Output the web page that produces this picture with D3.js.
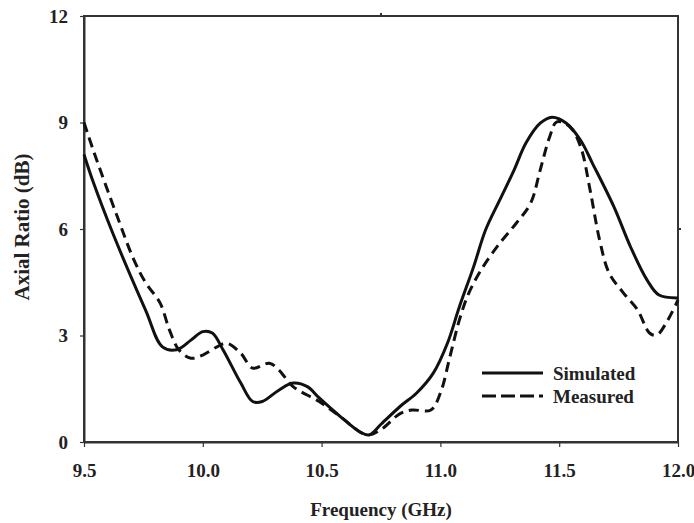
<!DOCTYPE html>
<html>
<head>
<meta charset="utf-8">
<script src="https://cdn.jsdelivr.net/npm/d3@7"></script>
<style>
  body { margin: 0; background: #fff; }
  text { font-family: "Liberation Serif", "Times New Roman", serif; font-weight: bold; fill: #222; }
</style>
</head>
<body>
<div id="chart"></div>
<script>
// values
const simFreq = [9.5, 9.54, 9.62, 9.76, 9.83, 9.89, 9.95, 10.0, 10.04, 10.085, 10.16, 10.21, 10.25, 10.32, 10.38, 10.44, 10.49, 10.58, 10.66, 10.70, 10.75, 10.83, 10.9, 10.97, 11.03, 11.08, 11.14, 11.19, 11.25, 11.31, 11.36, 11.42, 11.47, 11.53, 11.59, 11.64, 11.73, 11.80, 11.87, 11.92, 12.0];
const simAR   = [8.1, 7.3, 5.9, 3.7, 2.68, 2.6, 2.87, 3.11, 3.07, 2.6, 1.66, 1.14, 1.14, 1.46, 1.66, 1.56, 1.24, 0.71, 0.29, 0.2, 0.5, 1.0, 1.38, 1.94, 2.79, 3.81, 4.94, 5.97, 6.82, 7.66, 8.42, 8.98, 9.15, 8.98, 8.5, 7.85, 6.63, 5.5, 4.56, 4.14, 4.06];

const measFreq = [9.5, 9.54, 9.64, 9.71, 9.76, 9.82, 9.86, 9.90, 9.95, 10.0, 10.06, 10.10, 10.16, 10.21, 10.28, 10.32, 10.38, 10.49, 10.58, 10.69, 10.75, 10.83, 10.88, 10.96, 11.0, 11.04, 11.08, 11.12, 11.18, 11.25, 11.32, 11.38, 11.42, 11.46, 11.49, 11.545, 11.59, 11.63, 11.67, 11.71, 11.77, 11.83, 11.88, 11.91, 11.95, 12.0];
const measAR   = [9.0, 8.2, 6.35, 5.13, 4.48, 3.92, 3.15, 2.59, 2.36, 2.45, 2.68, 2.78, 2.5, 2.08, 2.22, 2.03, 1.56, 1.14, 0.71, 0.2, 0.35, 0.8, 0.9, 0.9, 1.38, 2.4, 3.44, 4.2, 4.94, 5.6, 6.17, 6.73, 7.66, 8.6, 9.02, 8.88, 8.32, 7.1, 5.69, 4.76, 4.2, 3.72, 3.07, 3.01, 3.35, 4.0];

const xTicks = [9.5, 10.0, 10.5, 11.0, 11.5, 12.0];
const yTicks = [0, 3, 6, 9, 12];
const seriesNames = ["Simulated", "Measured"];

const W = 694, H = 523;
const margin = { top: 16, right: 16, bottom: 81, left: 84 };
const width = W - margin.left - margin.right;
const height = H - margin.top - margin.bottom;

const svg = d3.select("#chart").append("svg")
  .attr("width", W)
  .attr("height", H);

const g = svg.append("g")
  .attr("transform", `translate(${margin.left},${margin.top})`);

const x = d3.scaleLinear().domain([9.5, 12.0]).range([0, width]);
const y = d3.scaleLinear().domain([0, 12]).range([height, 0]);

// frame
g.append("rect")
  .attr("width", width)
  .attr("height", height)
  .attr("fill", "none")
  .attr("stroke", "#333")
  .attr("stroke-width", 2);

const xAxis = g.append("g")
  .attr("transform", `translate(0,${height})`)
  .call(d3.axisBottom(x).tickValues(xTicks).tickFormat(d3.format(".1f")).tickSize(5).tickPadding(17).tickSizeOuter(0));
xAxis.select(".domain").attr("stroke", "#333").attr("stroke-width", 2);
xAxis.selectAll("line").attr("stroke", "#333").attr("stroke-width", 1.2);
xAxis.selectAll("text").attr("font-size", 19).attr("fill", "#222");

const yAxis = g.append("g")
  .call(d3.axisLeft(y).tickValues(yTicks).tickSize(4).tickPadding(12).tickSizeOuter(0));
yAxis.select(".domain").attr("stroke", "#333").attr("stroke-width", 2);
yAxis.selectAll("line").attr("stroke", "#333").attr("stroke-width", 1.2);
yAxis.selectAll("text").attr("font-size", 19).attr("fill", "#222");

// small marks on the top and right sides of the frame
g.append("line")
  .attr("x1", x(10.75)).attr("x2", x(10.75))
  .attr("y1", 0).attr("y2", -3)
  .attr("stroke", "#333").attr("stroke-width", 2);
g.append("line")
  .attr("x1", width).attr("x2", width + 3)
  .attr("y1", y(6)).attr("y2", y(6))
  .attr("stroke", "#333").attr("stroke-width", 2);

// axis titles
svg.append("text")
  .attr("x", 381)
  .attr("y", 516)
  .attr("text-anchor", "middle")
  .attr("font-size", 19)
  .text("Frequency (GHz)");

svg.append("text")
  .attr("transform", "translate(29,227) rotate(-90)")
  .attr("text-anchor", "middle")
  .attr("font-size", 21)
  .text("Axial Ratio (dB)");

const line = d3.line()
  .x(d => x(d[0]))
  .y(d => y(d[1]))
  .curve(d3.curveCatmullRom.alpha(0.5));

const simData = simFreq.map((f, i) => [f, simAR[i]]);
const measData = measFreq.map((f, i) => [f, measAR[i]]);

g.append("path")
  .datum(measData)
  .attr("fill", "none")
  .attr("stroke", "#111")
  .attr("stroke-width", 3)
  .attr("stroke-dasharray", "10,6")
  .attr("d", line);

g.append("path")
  .datum(simData)
  .attr("fill", "none")
  .attr("stroke", "#111")
  .attr("stroke-width", 3)
  .attr("d", line);

// legend
const legend = svg.append("g")
  .attr("transform", "translate(482,373)");

seriesNames.forEach((name, i) => {
  const ly = i * 23;
  legend.append("line")
    .attr("x1", 0).attr("x2", 61)
    .attr("y1", ly).attr("y2", ly)
    .attr("stroke", "#111")
    .attr("stroke-width", 3)
    .attr("stroke-dasharray", i === 1 ? "14,5" : null);
  legend.append("text")
    .attr("x", 71)
    .attr("y", ly)
    .attr("dy", "0.35em")
    .attr("font-size", 19)
    .text(name);
});
</script>
</body>
</html>
